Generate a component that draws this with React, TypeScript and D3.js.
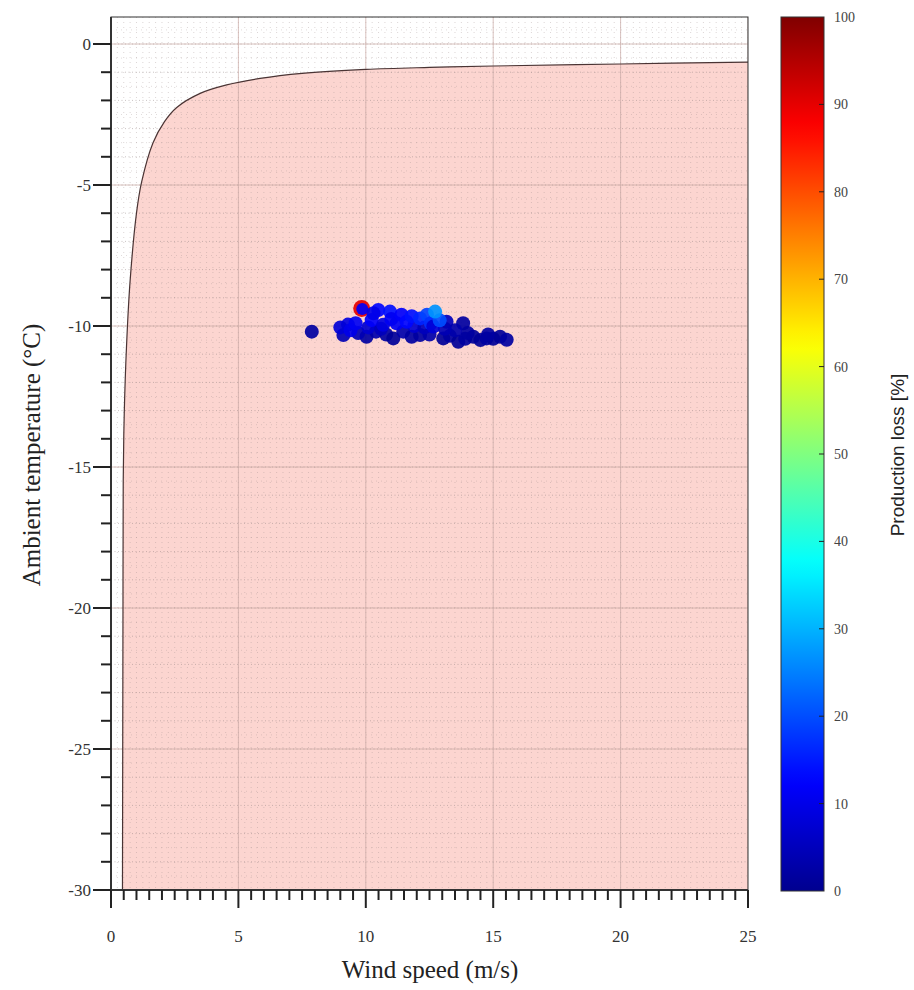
import React from "react";
import * as d3 from "d3";

// ---- data ----
const xTicks = [0, 5, 10, 15, 20, 25];
const yTicks = [0, -5, -10, -15, -20, -25, -30];
const cbTicks = [0, 10, 20, 30, 40, 50, 60, 70, 80, 90, 100];

// limit curve (wind speed, temperature)
const curveX = [0.45, 0.46, 0.47, 0.48, 0.52, 0.61, 0.75, 1.0, 1.2, 1.65, 2.1, 2.58, 3.5, 4.54, 5.85, 7.5, 10, 12.5, 15, 20, 25];
const curveY = [-30, -25, -20, -15.5, -13.1, -10.7, -8.4, -6.0, -4.9, -3.5, -2.75, -2.25, -1.75, -1.45, -1.22, -1.04, -0.9, -0.83, -0.78, -0.71, -0.64];

// scatter points: wind speed, temperature, production loss %
const ptX = [7.88, 10.03, 9.7, 10.4, 10.8, 11.08, 11.47, 11.8, 12.13, 12.5, 13.04, 13.3, 13.63, 13.9, 14.22, 14.5, 14.74, 15.0, 15.27, 15.53, 13.82, 13.17, 14.0, 14.8, 13.5, 13.1,
  9.3, 10.1, 10.6, 11.9, 12.3,
  9.12, 9.0, 9.4, 9.6, 9.84, 9.86, 10.23, 10.49, 10.3, 10.68, 10.95, 11.0, 11.21, 11.4, 11.6, 11.8, 12.13, 12.4, 12.55, 12.65, 12.9, 12.72];
const ptY = [-10.2, -10.38, -10.25, -10.2, -10.3, -10.44, -10.2, -10.38, -10.32, -10.3, -10.44, -10.35, -10.56, -10.45, -10.38, -10.5, -10.44, -10.45, -10.38, -10.49, -9.9, -9.85, -10.25, -10.3, -10.15, -10.1,
  -9.95, -10.05, -10.1, -10.0, -10.05,
  -10.32, -10.05, -10.15, -9.9, -9.38, -9.4, -9.79, -9.43, -9.55, -9.96, -9.49, -9.75, -9.9, -9.6, -9.85, -9.65, -9.73, -9.6, -9.9, -10.02, -9.8, -9.49];
const ptV = [2, 2, 4, 3, 2, 1, 3, 2, 2, 3, 1, 2, 1, 2, 1, 1, 2, 1, 1, 2, 2, 5, 2, 2, 3, 4,
  9, 7, 5, 7, 5,
  4, 8, 10, 11, 90, 12, 12, 13, 10, 9, 14, 11, 11, 12, 13, 14, 16, 19, 17, 8, 20, 27];

// jet colormap stops
const jetStops = ["#00008f", "#0000ff", "#0080ff", "#00ffff", "#80ff80", "#ffff00", "#ff8000", "#ff0000", "#800000"];

const jet = d3.scaleLinear<string>()
  .domain(d3.range(jetStops.length).map((i) => (i / (jetStops.length - 1)) * 100))
  .range(jetStops)
  .interpolate(d3.interpolateRgb)
  .clamp(true);

export default function App() {
  const W = 914, H = 990;
  const x = d3.scaleLinear().domain([0, 25]).range([111, 748]);
  const y = d3.scaleLinear().domain([-30, 0]).range([890, 44]);
  const top = 17;
  const cb = d3.scaleLinear().domain([0, 100]).range([891, 17]);
  const cbX0 = 781, cbX1 = 824;

  const curvePts: [number, number][] = curveX.map((v, i) => [v, curveY[i]]);
  const line = d3.line<[number, number]>().x((d) => x(d[0])).y((d) => y(d[1])).curve(d3.curveCatmullRom.alpha(0.5));
  const areaPath = line(curvePts) + `L${x(25)},${y(-30)}L${x(curveX[0])},${y(-30)}Z`;

  const xMinor = d3.range(0, 25.001, 0.5);
  const yMinor = d3.range(-30, 0.96, 1);
  const xFine = d3.range(0, 25.001, 0.25);

  const serif = "'Liberation Serif', 'Times New Roman', serif";
  const sans = "'Liberation Sans', Arial, sans-serif";

  const gradStops = d3.range(0, 101, 2);

  return (
    <svg width={W} height={H} style={{ position: "absolute", left: 0, top: 0, background: "#fff" }}>
      <defs>
        <linearGradient id="jetgrad" x1="0" y1="1" x2="0" y2="0">
          {gradStops.map((s) => (
            <stop key={s} offset={`${s}%`} stopColor={jet(s)} />
          ))}
        </linearGradient>
        <clipPath id="plotclip">
          <rect x={x(0)} y={top} width={x(25) - x(0)} height={y(-30) - top} />
        </clipPath>
      </defs>
      <rect x={x(0)} y={top} width={x(25) - x(0)} height={y(-30) - top} fill="#fff" />
      <path d={areaPath} fill="#fcd5d0" />
      <g clipPath="url(#plotclip)">
        {xFine.map((v) => (
          <line key={"xf" + v} x1={x(v)} x2={x(v)} y1={top} y2={y(-30)} stroke="#9a8a8a" strokeOpacity={0.35} strokeWidth={1} strokeDasharray="1,4" />
        ))}
        {yMinor.map((v) => (
          <line key={"ym" + v} x1={x(0)} x2={x(25)} y1={y(v)} y2={y(v)} stroke="#8a7a7a" strokeOpacity={0.45} strokeWidth={1} strokeDasharray="1,2.5" />
        ))}
        {yMinor.map((v) => (
          <line key={"yh" + v} x1={x(0)} x2={x(25)} y1={y(v + 0.5)} y2={y(v + 0.5)} stroke="#9a8a8a" strokeOpacity={0.3} strokeWidth={1} strokeDasharray="1,4" />
        ))}
        {xTicks.map((v) => (
          <line key={"xg" + v} x1={x(v)} x2={x(v)} y1={top} y2={y(-30)} stroke="#c8a8a4" strokeOpacity={0.7} strokeWidth={1} />
        ))}
        {yTicks.map((v) => (
          <line key={"yg" + v} x1={x(0)} x2={x(25)} y1={y(v)} y2={y(v)} stroke="#c8a8a4" strokeOpacity={0.7} strokeWidth={1} />
        ))}
      </g>
      <path d={line(curvePts) || ""} fill="none" stroke="#4a3434" strokeWidth={1.2} />
      <g>
        {ptX.map((v, i) => (
          <circle key={"p" + i} cx={x(v)} cy={y(ptY[i])} r={ptV[i] > 50 ? 8.5 : (i > 0 && ptV[i - 1] > 50 ? 6 : 7)} fill={jet(ptV[i])} fillOpacity={0.92} />
        ))}
      </g>
      {/* frame */}
      <rect x={x(0)} y={top} width={x(25) - x(0)} height={y(-30) - top} fill="none" stroke="#333" strokeWidth={1} />
      {/* y axis */}
      <line x1={x(0)} x2={x(0)} y1={top} y2={y(-30) + 18} stroke="#333" strokeWidth={2} />
      {yMinor.map((v) => {
        const major = v % 5 === 0;
        return <line key={"yt" + v} x1={x(0) - (major ? 18 : 10)} x2={x(0)} y1={y(v)} y2={y(v)} stroke="#222" strokeWidth={2} />;
      })}
      {yTicks.map((v) => (
        <text key={"yl" + v} x={91} y={y(v)} dy="0.35em" textAnchor="end" fontFamily={serif} fontSize={17} fill="#333">
          {v}
        </text>
      ))}
      {/* x axis */}
      <line x1={x(0)} x2={x(25)} y1={y(-30)} y2={y(-30)} stroke="#333" strokeWidth={2} />
      {xMinor.map((v) => {
        const major = v % 5 === 0;
        return <line key={"xt" + v} x1={x(v)} x2={x(v)} y1={y(-30)} y2={y(-30) + (major ? 18 : 10)} stroke="#222" strokeWidth={2} />;
      })}
      {xTicks.map((v) => (
        <text key={"xl" + v} x={x(v)} y={942} textAnchor="middle" fontFamily={serif} fontSize={17} fill="#333">
          {v}
        </text>
      ))}
      <text x={430} y={978} textAnchor="middle" fontFamily={serif} fontSize={25} fill="#222">
        Wind speed (m/s)
      </text>
      <text transform="translate(40,455) rotate(-90)" textAnchor="middle" fontFamily={serif} fontSize={25} fill="#222">
        Ambient temperature (°C)
      </text>
      {/* colorbar */}
      <rect x={cbX0} y={cb(100)} width={cbX1 - cbX0} height={cb(0) - cb(100)} fill="url(#jetgrad)" stroke="#333" strokeWidth={1} />
      {cbTicks.map((v) => (
        <g key={"cb" + v}>
          {v > 0 && v < 100 && <line x1={cbX1 - 5} x2={cbX1} y1={cb(v)} y2={cb(v)} stroke="#222" strokeWidth={1} />}
          <text x={834} y={cb(v)} dy="0.35em" fontFamily={serif} fontSize={14} fill="#444">
            {v}
          </text>
        </g>
      ))}
      <text transform="translate(904,455) rotate(-90)" textAnchor="middle" fontFamily={sans} fontSize={19} fill="#222">
        Production loss [%]
      </text>
    </svg>
  );
}
